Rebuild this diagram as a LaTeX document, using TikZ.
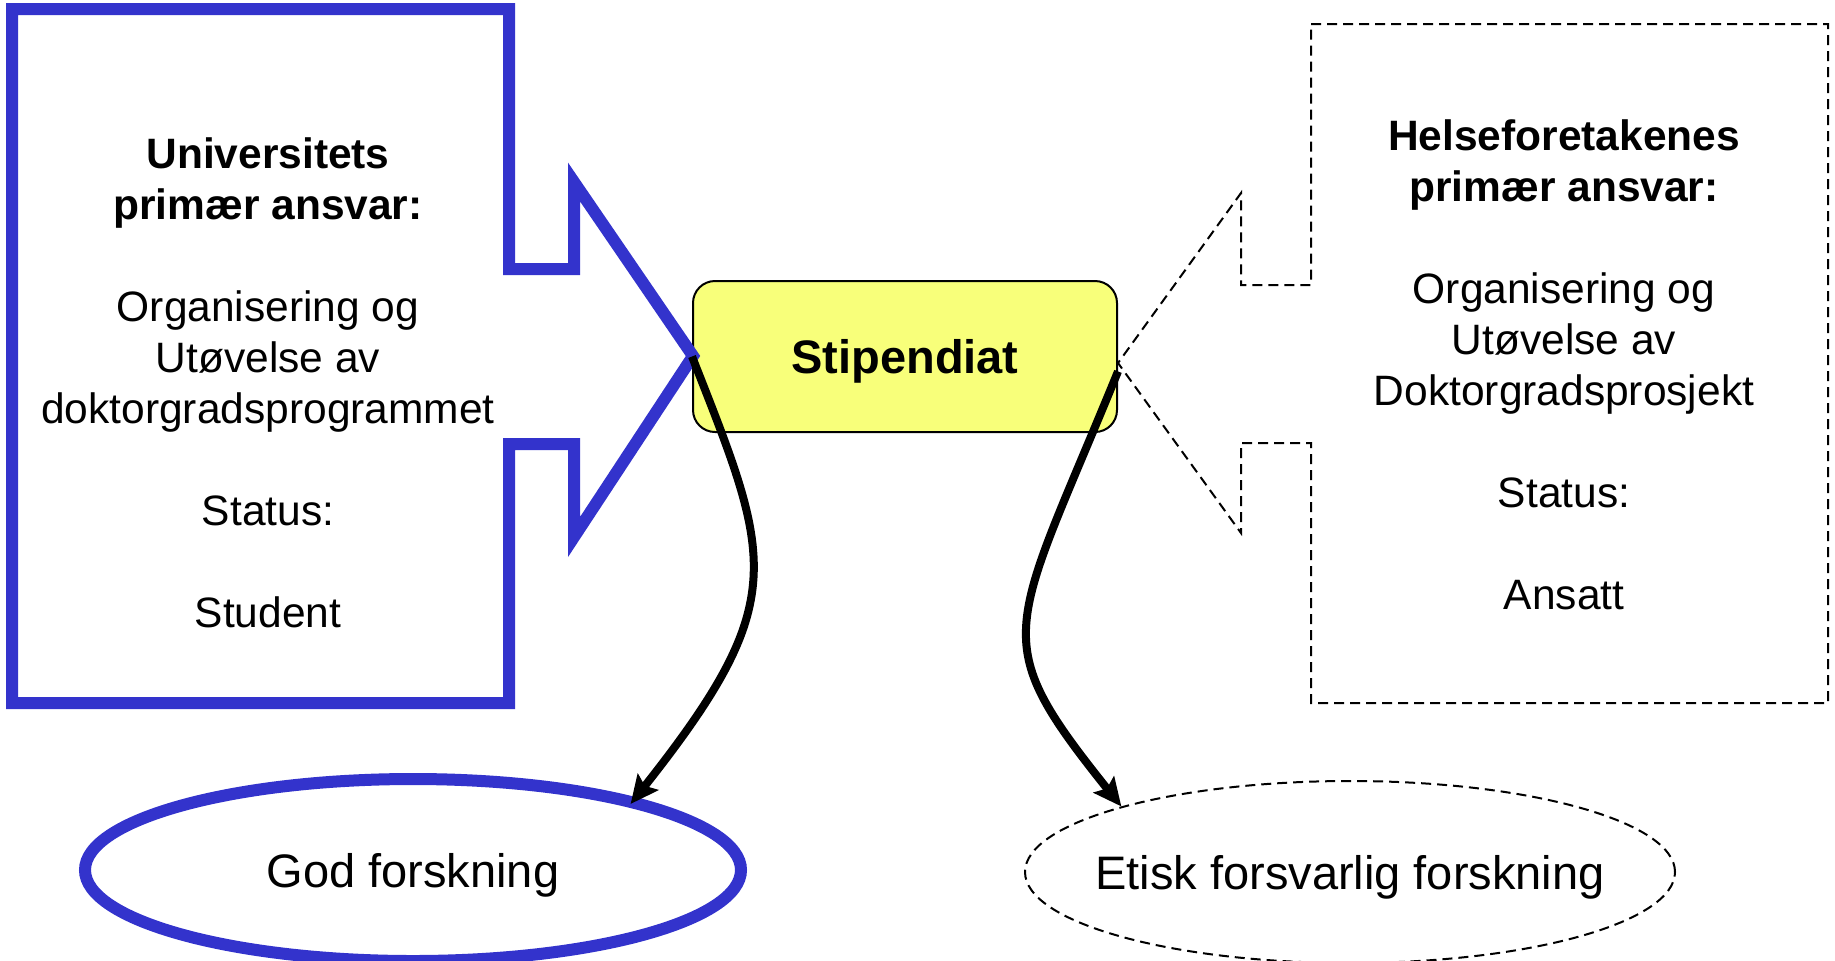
\documentclass[tikz,border=0pt]{standalone}
\usepackage{fontspec}
\setmainfont{Liberation Sans}
\usetikzlibrary{shapes.geometric,arrows.meta}
\definecolor{uniblue}{RGB}{51,51,204}
\definecolor{stipyellow}{RGB}{248,255,122}

\begin{document}
\begin{tikzpicture}
        [x=0.5pt, y=-0.5pt,
        txt/.style={align=center, font=\fontsize{21.25}{25.5}\selectfont},
        stipbox/.style={draw, line width=1pt, rounded corners=11pt, fill=stipyellow, text depth=0pt,
          minimum width=212pt, minimum height=75.5pt, font=\fontsize{23.5}{28}\selectfont\bfseries},
        goal/.style={ellipse, draw, inner sep=0pt, minimum height=91pt, text depth=0pt, font=\fontsize{23.5}{28}\selectfont},
        uni/.style={uniblue, line width=6pt},
        hf/.style={black, line width=1pt, dash pattern=on 5pt off 3pt},
        flow/.style={line width=4pt, -{Stealth[length=14pt,width=13pt,inset=2.5pt]}}]

        \useasboundingbox (0,0) rectangle (1835,960);

        % the PhD candidate in the middle
        \node[stipbox] (stip) at (905,356.5) {Stipendiat};

        % the two goals
        \node[uni, goal, text=black, minimum width=328pt] (god) at (413,870) {God forskning};
        \node[hf, goal, minimum width=325pt, inner xsep=-13pt] (etisk) at (1350,872) {Etisk forsvarlig forskning};

        % texts inside the two arrow boxes
        \node[txt] (uni) at (268,383) {\textbf{Universitets}\\\textbf{primær ansvar:}\\[25.5pt]
          Organisering og\\Utøvelse av\\doktorgradsprogrammet\\[25.5pt]Status:\\[25.5pt]Student};
        \node[txt] (hf) at (1564,365) {\textbf{Helseforetakenes}\\\textbf{primær ansvar:}\\[25.5pt]
          Organisering og\\Utøvelse av\\Doktorgradsprosjekt\\[25.5pt]Status:\\[25.5pt]Ansatt};

        % arrow boxes pointing at the candidate
        \draw[uni, line join=miter] (12,9) -- (509,9) -- (509,269) -- (574,269) -- (574,182)
          -- (693,356) -- (574,537) -- (574,444) -- (509,444) -- (509,703) -- (12,703) -- cycle;
        \draw[hf] (1311,24) -- (1828,24) -- (1828,703) -- (1311,703) -- (1311,443) -- (1241,443)
          -- (1241,533) -- (1118,363) -- (1241,193) -- (1241,285) -- (1311,285) -- cycle;

        % curved arrows down to the goals
        \draw[flow, shorten >=-4pt] (stip.west) .. controls (772,560) and (792,600) .. (god.18);
        \draw[flow] (stip.-4) .. controls (1010,636) and (985,636) .. (etisk.164);

        \end{tikzpicture}
\end{document}
